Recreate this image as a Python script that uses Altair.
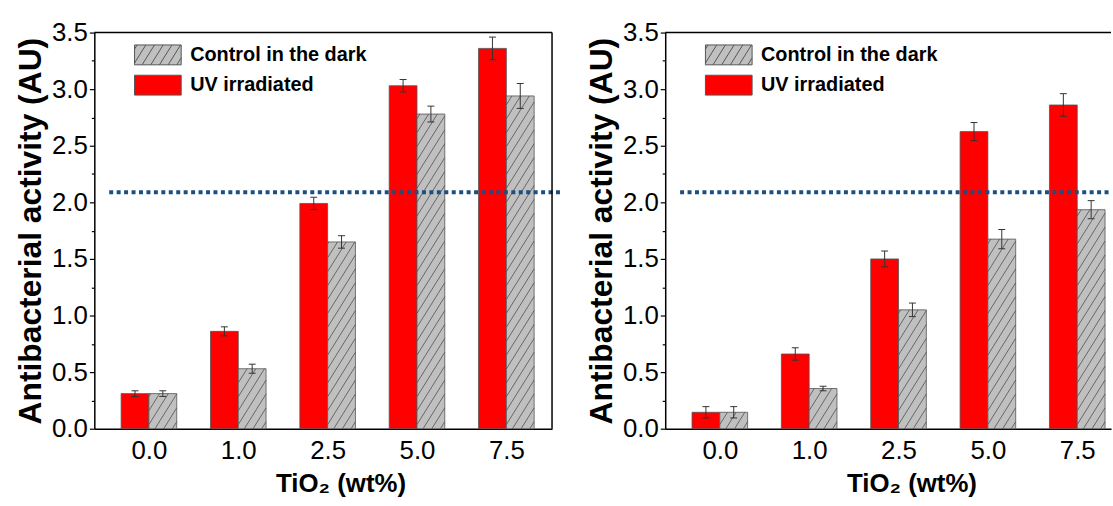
import json
import altair as alt
import pandas as pd

# ---------------- data ----------------
categories = ["0.0", "1.0", "2.5", "5.0", "7.5"]
series = ["Control in the dark", "UV irradiated"]

left_uv = [0.31, 0.86, 1.99, 3.03, 3.36]
left_uv_err = [0.025, 0.04, 0.055, 0.055, 0.10]
left_ctrl = [0.31, 0.53, 1.65, 2.78, 2.94]
left_ctrl_err = [0.025, 0.04, 0.055, 0.07, 0.11]

right_uv = [0.145, 0.66, 1.50, 2.625, 2.86]
right_uv_err = [0.05, 0.055, 0.07, 0.08, 0.10]
right_ctrl = [0.145, 0.355, 1.05, 1.675, 1.935]
right_ctrl_err = [0.05, 0.02, 0.06, 0.085, 0.08]

threshold = 2.09
y_top = 3.5

# ---------------- style / geometry ----------------
FONT = "Liberation Sans, Arial"
BOLD_FONT = "Liberation Sans, Arial"
RED = "#ff0000"
GRAY = "#c0c0c0"
HATCH = "#505050"
EDGE = "#555555"
DOT = "#1c4f80"

KX = 90.0      # px per category step
KY = 114.0     # px per unit of y
PLOT_H = 399
LEFT_W = 461
RIGHT_W = 449
X_MIN = -0.611
BW = 28.0 / KX          # bar width in category units
CAP = 3.5 / KX          # error cap half width
HK = 1.6                # hatch slope (px/px)
HS = 14.0               # hatch vertical spacing (px)


def panel_frame(uv, uv_err, ctrl, ctrl_err):
    rows = []
    for i, cat in enumerate(categories):
        for s, vals, errs, left in ((series[1], uv, uv_err, True),
                                    (series[0], ctrl, ctrl_err, False)):
            x0 = i - BW if left else i
            x1 = i if left else i + BW
            xc = (x0 + x1) / 2
            rows.append(dict(cat=cat, series=s, value=vals[i],
                             lo=vals[i] - errs[i], hi=vals[i] + errs[i],
                             x0=x0, x1=x1, xc=xc, c0=xc - CAP, c1=xc + CAP))
    return pd.DataFrame(rows)


def hatch_frame(df):
    segs = []
    for r in df[df.series == series[0]].itertuples():
        w = (r.x1 - r.x0) * KX
        H = r.value * KY
        b = -HK * w + HS * 0.5
        while b < H:
            xs = max(0.0, -b / HK)
            xe = min(w, (H - b) / HK)
            if xe > xs:
                segs.append(dict(hx=r.x0 + xs / KX, hx2=r.x0 + xe / KX,
                                 hy=(HK * xs + b) / KY, hy2=(HK * xe + b) / KY))
            b += HS
    return pd.DataFrame(segs)


def legend_paths():
    hw, hh = 2.35, 1.0
    rect = f"M{-hw},{-hh}H{hw}V{hh}H{-hw}Z"
    parts = [rect]
    w, H = 2 * hw, 2 * hh
    s = 1.4
    b = -HK * w + s * 0.5
    while b < H:
        xs = max(0.0, -b / HK)
        xe = min(w, (H - b) / HK)
        if xe > xs:
            ys, ye = HK * xs + b, HK * xe + b
            parts.append(f"M{xs - hw:.3f},{hh - ys:.3f}L{xe - hw:.3f},{hh - ye:.3f}")
        b += s
    return " ".join(parts), rect


hatch_path, rect_path = legend_paths()


def make_panel(uv, uv_err, ctrl, ctrl_err, width, dot_x2, right_spine):
    df = panel_frame(uv, uv_err, ctrl, ctrl_err)
    hdf = hatch_frame(df)
    x_max = X_MIN + width / KX
    xscale = alt.Scale(domain=[X_MIN, x_max], nice=False, zero=False)
    yscale = alt.Scale(domain=[0, y_top], nice=False, zero=False)
    xaxis = alt.Axis(
        values=list(range(len(categories))),
        labelExpr=json.dumps(categories) + "[datum.value]",
        ticks=False, tickSize=0, labelPadding=9, grid=False,
        labelFont=FONT, labelFontSize=26, labelColor="black",
        domainColor="black", domainWidth=1.5,
        title="TiO₂ (wt%)", titleFont=BOLD_FONT, titleFontSize=26,
        titleFontWeight="bold", titleColor="black", titlePadding=7,
        titleX=248,
    )
    yaxis = alt.Axis(
        values=[k * 0.25 for k in range(15)],
        labelExpr="datum.value % 0.5 == 0 ? format(datum.value, '.1f') : ''",
        tickSize={"condition": {"test": "datum.value % 0.5 != 0", "value": 3}, "value": 5},
        tickColor="black", tickWidth=1.2, labelPadding=2, grid=False,
        labelOverlap=False, labelFont=FONT, labelFontSize=26, labelColor="black",
        domainColor="black", domainWidth=1.5,
        title="Antibacterial activity (AU)", titleFont=BOLD_FONT,
        titleFontSize=32, titleFontWeight="bold", titleColor="black",
        titlePadding=4,
    )
    X = lambda f: alt.X(f, scale=xscale, axis=xaxis)
    Y = lambda f: alt.Y(f, scale=yscale, axis=yaxis)

    base = alt.Chart(df)
    red = base.transform_filter(alt.datum.series == series[1]).mark_bar(
        fill=RED, stroke=EDGE, strokeWidth=0.8
    ).encode(x=X("x0:Q"), x2="x1:Q", y=Y("value:Q"), y2=alt.datum(0))
    gray = base.transform_filter(alt.datum.series == series[0]).mark_bar(
        fill=GRAY, stroke=EDGE, strokeWidth=0.8
    ).encode(x=X("x0:Q"), x2="x1:Q", y=Y("value:Q"), y2=alt.datum(0))
    hatch = alt.Chart(hdf).mark_rule(color=HATCH, strokeWidth=0.8).encode(
        x=X("hx:Q"), x2="hx2:Q", y=Y("hy:Q"), y2="hy2:Q")
    stems = base.mark_rule(color="#333333", strokeWidth=1).encode(
        x=X("xc:Q"), y=Y("lo:Q"), y2="hi:Q")
    cap_hi = base.mark_rule(color="#333333", strokeWidth=1).encode(
        x=X("c0:Q"), x2="c1:Q", y=Y("hi:Q"))
    cap_lo = base.mark_rule(color="#333333", strokeWidth=1).encode(
        x=X("c0:Q"), x2="c1:Q", y=Y("lo:Q"))
    dot = alt.Chart(pd.DataFrame({"t": [threshold]})).mark_rule(
        color=DOT, strokeWidth=4, strokeDash=[4, 3.5]
    ).encode(y=Y("t:Q"), x=alt.value(15), x2=alt.value(dot_x2))

    # frame: top spine (and right spine for the left panel)
    top = alt.Chart(pd.DataFrame({"t": [y_top]})).mark_rule(
        color="black", strokeWidth=1.5
    ).encode(y=Y("t:Q"), x=alt.value(0), x2=alt.value(width))
    layers = [red, gray, hatch, stems, cap_hi, cap_lo, dot, top]
    if right_spine:
        rs = alt.Chart(pd.DataFrame({"t": [y_top]})).mark_rule(
            color="black", strokeWidth=1.5
        ).encode(x=alt.value(width), y=alt.value(0), y2=alt.value(PLOT_H))
        layers.append(rs)

    leg = alt.Legend(
        title=None, orient="none", legendX=42, legendY=12, padding=0,
        rowPadding=5.5, symbolSize=400, symbolStrokeColor=EDGE,
        symbolStrokeWidth=1, symbolOpacity=1, symbolOffset=11.5,
        labelOffset=22, labelFont=BOLD_FONT, labelFontSize=20,
        labelFontWeight="bold", labelColor="black", labelLimit=400,
    )
    # legend carrier: points placed outside the clipped view, so only the legend shows
    legend_pts = base.mark_point(filled=True, stroke=EDGE, strokeWidth=1, clip=True).encode(
        x=alt.value(-500), y=alt.value(-500),
        fill=alt.Fill("series:N", scale=alt.Scale(domain=series, range=[GRAY, RED]), legend=leg),
        stroke=alt.Stroke("series:N", scale=alt.Scale(domain=series, range=[EDGE, EDGE]), legend=leg),
        shape=alt.Shape("series:N", scale=alt.Scale(domain=series, range=[hatch_path, rect_path]), legend=leg),
    )
    layers.append(legend_pts)
    return alt.layer(*layers).properties(width=width, height=PLOT_H)


left = make_panel(left_uv, left_uv_err, left_ctrl, left_ctrl_err, LEFT_W, 470, True)
right = make_panel(right_uv, right_uv_err, right_ctrl, right_ctrl_err, RIGHT_W, RIGHT_W, False)

chart = alt.hconcat(left, right, spacing=22).resolve_scale(
    x="independent", y="independent"
).resolve_legend(fill="independent", shape="independent", stroke="independent").properties(
    padding={"left": 14, "top": 18, "right": 0, "bottom": 0},
    background="white",
).configure_view(stroke=None)

chart.save("out.html", embed_options={"renderer": "svg", "actions": False})
